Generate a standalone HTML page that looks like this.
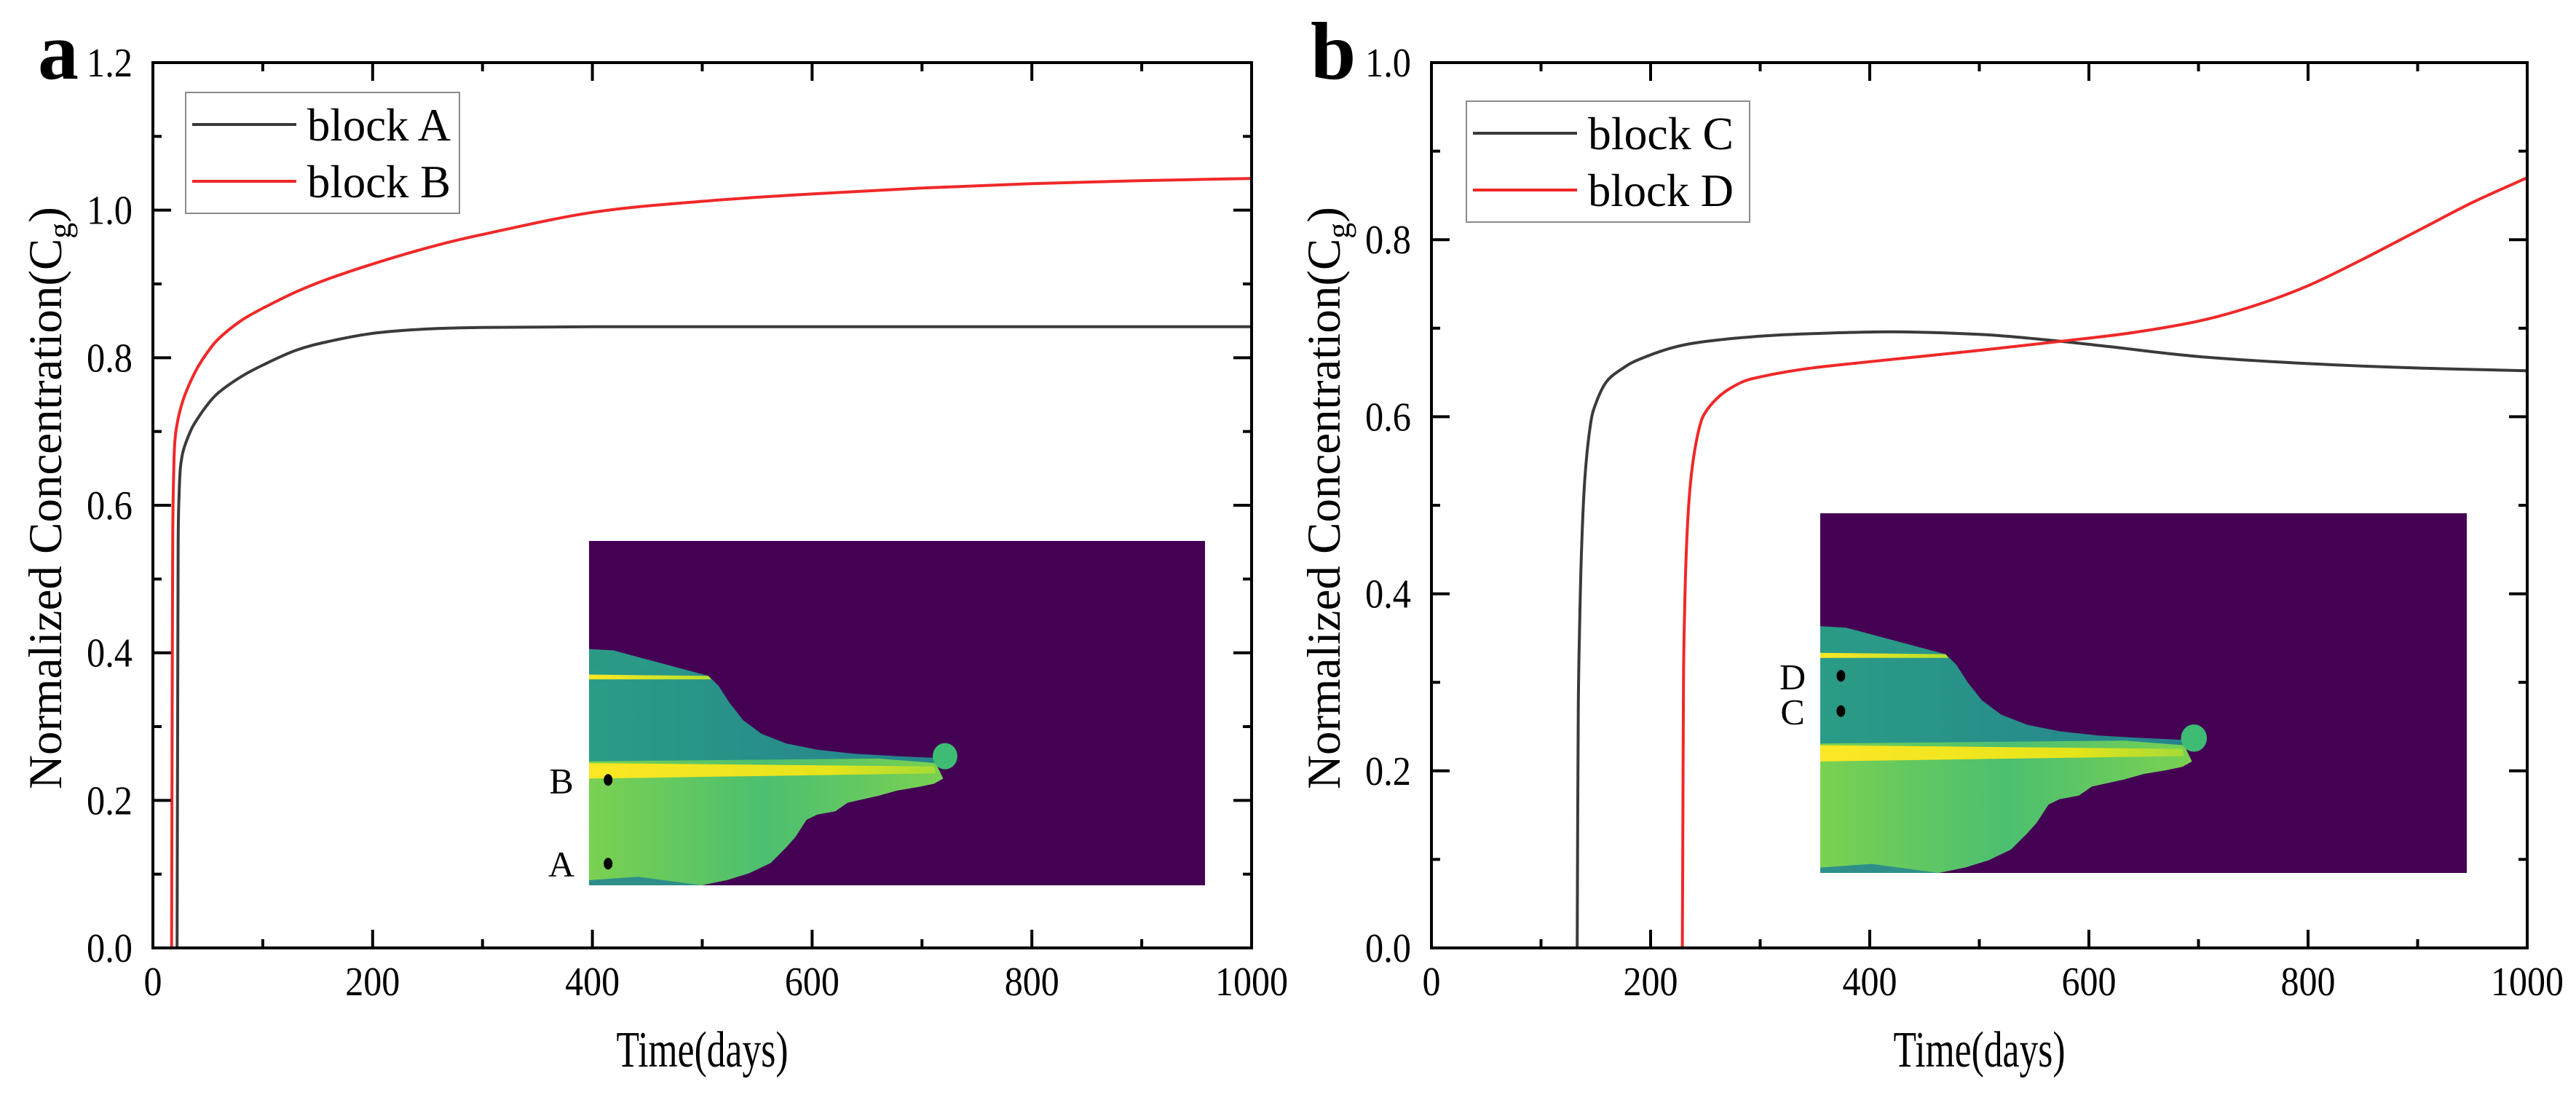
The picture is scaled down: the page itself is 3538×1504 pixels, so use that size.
<!DOCTYPE html>
<html><head><meta charset="utf-8"><style>
html,body{margin:0;padding:0;background:#fff;}
svg{display:block;font-family:"Liberation Serif",serif;}
</style></head><body>
<svg id="fig" width="3538" height="1504" viewBox="0 0 3538 1504" xmlns="http://www.w3.org/2000/svg">
<defs>
<linearGradient id="gUp" x1="0" x2="1" y1="0" y2="0"><stop offset="0" stop-color="#2a9c86"/><stop offset="1" stop-color="#26828e"/></linearGradient>
<linearGradient id="gLow" x1="0" x2="1" y1="0" y2="0"><stop offset="0" stop-color="#7ad151"/><stop offset="0.5" stop-color="#4cbf70"/><stop offset="1" stop-color="#7ad151"/></linearGradient>
<linearGradient id="gYel" x1="0" x2="1" y1="0" y2="0"><stop offset="0" stop-color="#fde725"/><stop offset="0.7" stop-color="#e6e41a"/><stop offset="1" stop-color="#a5db36"/></linearGradient>
<linearGradient id="gYel2" x1="0" x2="1" y1="0" y2="0"><stop offset="0" stop-color="#fde725"/><stop offset="1" stop-color="#b5de2b"/></linearGradient>
</defs>
<g id="panelA"></g>
<g id="panelB"></g>
</svg>
<script>
// Panel a data
const daysA=[22,22.5,23,24,25,27,30,35,40,50,60,80,100,130,160,200,250,300,400,600,800,1000];
const valsA=[0,0.3,0.55,0.62,0.65,0.67,0.685,0.703,0.716,0.737,0.753,0.774,0.79,0.81,0.822,0.833,0.839,0.841,0.842,0.842,0.842,0.842];
const daysB=[17,17.5,18,19,20,22,25,30,40,50,60,80,100,130,160,200,250,300,400,500,600,700,800,900,1000];
const valsB=[0,0.3,0.55,0.65,0.687,0.71,0.73,0.753,0.785,0.808,0.826,0.85,0.867,0.889,0.907,0.927,0.949,0.967,0.997,1.012,1.022,1.03,1.036,1.04,1.043];
// Panel b data
const daysC=[133,133.5,134,135,137,140,145,150,160,175,190,220,250,300,350,420,500,560,620,700,800,900,1000];
const valsC=[0,0.15,0.27,0.35,0.45,0.53,0.59,0.615,0.64,0.655,0.665,0.678,0.685,0.691,0.694,0.696,0.693,0.687,0.679,0.668,0.66,0.655,0.652];
const daysD=[229,229.5,230,231,233,236,240,245,250,260,270,285,300,330,360,430,500,580,640,700,750,800,850,900,950,1000];
const valsD=[0,0.15,0.3,0.38,0.46,0.52,0.56,0.59,0.605,0.62,0.63,0.64,0.645,0.652,0.657,0.666,0.675,0.686,0.695,0.708,0.725,0.748,0.778,0.81,0.842,0.87];
const xTicks=[0,200,400,600,800,1000];
const yTicksA=["0.0","0.2","0.4","0.6","0.8","1.0","1.2"];
const yTicksB=["0.0","0.2","0.4","0.6","0.8","1.0"];

const NS="http://www.w3.org/2000/svg";
function mk(parent,tag,attrs,text){const e=document.createElementNS(NS,tag);for(const k in attrs)e.setAttribute(k,attrs[k]);if(text!==undefined)e.textContent=text;parent.appendChild(e);return e;}
function lblLen(s){let w=0;for(const c of s)w+=(c==='.')?13:25;return w;}
function smoothPath(P){
  let d="M"+P[0][0].toFixed(1)+","+P[0][1].toFixed(1);
  for(let i=0;i<P.length-1;i++){
    const p0=P[Math.max(0,i-1)],p1=P[i],p2=P[i+1],p3=P[Math.min(P.length-1,i+2)];
    const k=1/6;
    let c1x=p1[0]+(p2[0]-p0[0])*k,c1y=p1[1]+(p2[1]-p0[1])*k;
    let c2x=p2[0]-(p3[0]-p1[0])*k,c2y=p2[1]-(p3[1]-p1[1])*k;
    const minx=Math.min(p1[0],p2[0]),maxx=Math.max(p1[0],p2[0]),miny=Math.min(p1[1],p2[1]),maxy=Math.max(p1[1],p2[1]);
    c1x=Math.min(maxx,Math.max(minx,c1x));c2x=Math.min(maxx,Math.max(minx,c2x));
    c1y=Math.min(maxy,Math.max(miny,c1y));c2y=Math.min(maxy,Math.max(miny,c2y));
    d+=" C"+c1x.toFixed(1)+","+c1y.toFixed(1)+" "+c2x.toFixed(1)+","+c2y.toFixed(1)+" "+p2[0].toFixed(1)+","+p2[1].toFixed(1);
  }
  return d;
}

function drawPanel(g,cfg){
  const L=cfg.L,R=cfg.R,T=86,B=1302;
  const sx=v=>L+(v-0)/1000*(R-L);
  const sy=v=>B-v/cfg.ymax*(B-T);
  drawInset(g,cfg.inset);
  cfg.series.forEach(s=>{
    const P=s.x.map((d,i)=>[sx(d),sy(s.y[i])]);
    const pl=mk(g,"path",{d:smoothPath(P),fill:"none",stroke:s.color,"stroke-width":4,"stroke-linejoin":"round"});
    
    
  });
  const fr=mk(g,"rect",{x:L,y:T,width:R-L,height:B-T,fill:"none",stroke:"#000","stroke-width":4});
  
  
  for(let v=0;v<=1000;v+=100){
    const major=v%200===0, len=major?25:12, x=sx(v);
    mk(g,"line",{x1:x,x2:x,y1:B,y2:B-len,stroke:"#000","stroke-width":4});
    mk(g,"line",{x1:x,x2:x,y1:T,y2:T+len,stroke:"#000","stroke-width":4});
  }
  xTicks.forEach(v=>{
    const s=String(v);
    const t=mk(g,"text",{x:sx(v),y:1367,"font-size":56,"text-anchor":"middle",textLength:lblLen(s),lengthAdjust:"spacingAndGlyphs"},s);
    
    
  });
  const n=Math.round(cfg.ymax/0.1);
  for(let i=0;i<=n;i++){
    const v=i*0.1, major=i%2===0, len=major?25:12, y=sy(v);
    mk(g,"line",{x1:L,x2:L+len,y1:y,y2:y,stroke:"#000","stroke-width":4});
    mk(g,"line",{x1:R,x2:R-len,y1:y,y2:y,stroke:"#000","stroke-width":4});
  }
  cfg.yTicks.forEach(lbl=>{
    const t=mk(g,"text",{x:L-28,y:sy(parseFloat(lbl))+19,"font-size":56,"text-anchor":"end",textLength:lblLen(lbl),lengthAdjust:"spacingAndGlyphs"},lbl);
    
    
  });
  const xt=mk(g,"text",{x:(L+R)/2,y:1465,"font-size":70,"text-anchor":"middle",textLength:236,lengthAdjust:"spacingAndGlyphs"},"Time(days)");
  
  
  const yt=mk(g,"text",{transform:"translate("+cfg.ytx+",684) rotate(-90)","font-size":65,"text-anchor":"middle"});
  
  
  mk(yt,"tspan",{},"Normalized Concentration(C");
  mk(yt,"tspan",{"font-size":44,dy:13},"g");
  mk(yt,"tspan",{dy:-13},")");
  const pl=mk(g,"text",{x:cfg.letterX,y:108,"font-size":112,"font-weight":"bold"},cfg.letter);
  
  
  const lg=mk(g,"g",{});
  
  
  const lb=cfg.legend;
  mk(lg,"rect",{x:lb.x,y:lb.y,width:lb.w,height:lb.h,fill:"#fff",stroke:"#8a8a8a","stroke-width":2});
  cfg.series.forEach((s,i)=>{
    const ly=lb.y+44+i*78;
    const e=mk(lg,"g",{});
    
    
    mk(e,"line",{x1:lb.x+9,x2:lb.x+152,y1:ly,y2:ly,stroke:s.color,"stroke-width":4});
    mk(e,"text",{x:lb.x+167,y:ly+22,"font-size":64,textLength:lb.tl,lengthAdjust:"spacingAndGlyphs"},s.label);
  });
}

function drawInset(g,ins){
  const ig=mk(g,"g",{transform:"translate("+ins.x+","+ins.y+")"});
  
  
  const w=ins.w,h=ins.h;
  const P=arr=>arr.map(p=>(p[0]/1000*w).toFixed(1)+","+(p[1]/1000*h).toFixed(1)).join(" ");
  mk(ig,"rect",{x:0,y:0,width:w,height:h,fill:"#440154"});
  mk(ig,"polygon",{points:P([[0,314],[40,318],[194,392],[210,420],[228,470],[250,520],[280,560],[320,588],[370,606],[430,618],[500,625],[563,630],[563,655],[0,655]]),fill:"url(#gUp)"});
  mk(ig,"polygon",{points:P([[0,320],[40,322],[150,372],[0,372]]),fill:"#2c9a86",opacity:0.6});
  mk(ig,"polygon",{points:P([[0,388],[194,392],[198,402],[0,402]]),fill:"url(#gYel2)"});
  mk(ig,"polygon",{points:P([[0,640],[470,632],[563,645],[575,690],[560,705],[536,714],[500,725],[470,740],[420,760],[400,785],[370,795],[353,810],[335,860],[320,890],[295,935],[260,965],[224,985],[183,1000],[0,1000]]),fill:"url(#gLow)"});
  mk(ig,"polygon",{points:P([[0,645],[560,655],[563,675],[0,690]]),fill:"url(#gYel)"});
  mk(ig,"polygon",{points:P([[0,985],[80,975],[183,1000],[0,1000]]),fill:"#2e8f8a"});
  mk(ig,"ellipse",{cx:0.578*w,cy:0.625*h,rx:0.02*w,ry:0.038*h,fill:"#3fbc73"});
  ins.pts.forEach(p=>{
    const d=mk(ig,"ellipse",{cx:p.u*w,cy:p.v*h,rx:6,ry:8,fill:"#000"});
    
    
    const t=mk(g,"text",{x:ins.x-38,y:ins.y+p.v*h+18,"font-size":50,"text-anchor":"middle"},p.label);
    
    
  });
}

drawPanel(document.getElementById("panelA"),{
  L:210,R:1719,ymax:1.2,yTicks:yTicksA,ytx:84,letter:"a",letterX:52,
  legend:{x:255,y:127,w:376,h:166,tl:197},
  inset:{x:809,y:743,w:846,h:473,pts:[{u:0.031,v:0.694,label:"B"},{u:0.031,v:0.937,label:"A"}]},
  series:[{x:daysA,y:valsA,color:"#3a3a3a",label:"block A",name:"line-block-a"},
          {x:daysB,y:valsB,color:"#f02828",label:"block B",name:"line-block-b"}]
});
drawPanel(document.getElementById("panelB"),{
  L:1966,R:3471,ymax:1.0,yTicks:yTicksB,ytx:1840,letter:"b",letterX:1800,
  legend:{x:2014,y:139,w:389,h:166,tl:200},
  inset:{x:2500,y:705,w:888,h:494,pts:[{u:0.032,v:0.452,label:"D"},{u:0.032,v:0.55,label:"C"}]},
  series:[{x:daysC,y:valsC,color:"#3a3a3a",label:"block C",name:"line-block-c"},
          {x:daysD,y:valsD,color:"#f02828",label:"block D",name:"line-block-d"}]
});
</script>
</body></html>
